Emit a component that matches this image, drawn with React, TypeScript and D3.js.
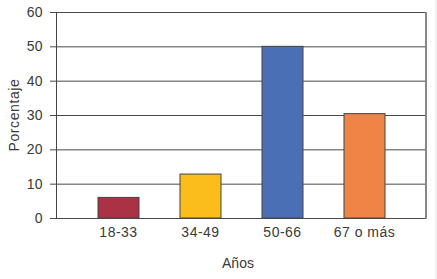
import React from 'react';
import * as d3 from 'd3';

const categories = ['18-33', '34-49', '50-66', '67 o más'];
const values = [6, 12.8, 50, 30.4];
const barColors = ['#a93244', '#fbbd1c', '#4a6fb5', '#ef8447'];
const yTicks = [0, 10, 20, 30, 40, 50, 60];

const W = 437;
const H = 279;
const margin = { top: 12, right: 11, bottom: 61, left: 56 };

const App: React.FC = () => {
  const x = d3.scaleBand()
    .domain(categories)
    .range([margin.left + 1, W - margin.right])
    .paddingInner(0.5)
    .paddingOuter(0.5);

  const y = d3.scaleLinear()
    .domain([0, 60])
    .range([H - margin.bottom, margin.top]);

  const left = margin.left;
  const right = W - margin.right;
  const font = '"Liberation Sans", Arial, sans-serif';
  const txt = { fontSize: 14, fill: '#3a3a3a', fontFamily: font };

  return (
    <svg width={W} height={H} style={{ position: 'absolute', left: 0, top: 0, background: '#fff' }}>
      {/* grid + ticks */}
      {yTicks.map(t => (
        <g key={t}>
          <line x1={left - 6} x2={right} y1={y(t) + 0.5} y2={y(t) + 0.5} stroke="#4a4a4a" strokeWidth={1} />
          <text x={left - 13} y={y(t)} dy="0.36em" textAnchor="end" letterSpacing={0.4} {...txt}>{t}</text>
        </g>
      ))}

      {/* bars */}
      {categories.map((c, i) => (
        <rect key={c}
          x={x(c)!} y={y(values[i])}
          width={x.bandwidth()} height={y(0) - y(values[i])}
          fill={barColors[i]} stroke="#444" strokeWidth={1} />
      ))}

      {/* frame */}
      <line x1={left + 0.5} x2={left + 0.5} y1={margin.top} y2={y(0) + 0.5} stroke="#444" strokeWidth={1} />
      <line x1={right} x2={right} y1={margin.top} y2={y(0) + 1} stroke="#888" strokeWidth={2} />
      <line x1={436} x2={436} y1={0} y2={H} stroke="#e4e4e4" strokeWidth={1} />

      {/* category labels */}
      {categories.map(c => (
        <text key={c} x={x(c)! + x.bandwidth() / 2} y={y(0) + 14} dy="0.36em" textAnchor="middle" letterSpacing={0.5} {...txt}>{c}</text>
      ))}

      <text x={238} y={262.5} dy="0.36em" textAnchor="middle" {...txt}>Años</text>
      <text transform={`translate(14,${(margin.top + y(0)) / 2}) rotate(-90)`} dy="0.36em" textAnchor="middle" letterSpacing={0.6} {...txt}>Porcentaje</text>
    </svg>
  );
};

export default App;
